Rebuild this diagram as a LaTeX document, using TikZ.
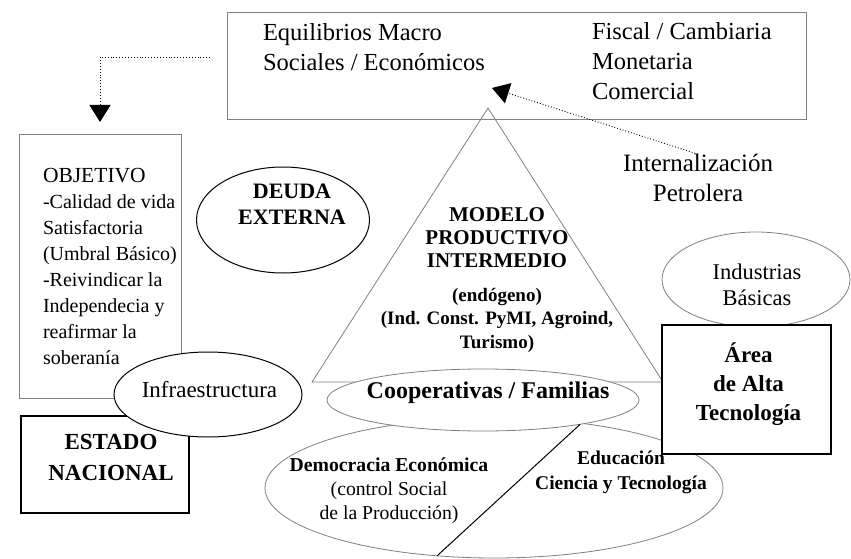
\documentclass[tikz,border=0pt]{standalone}
\usepackage{fontspec}
\setmainfont{Liberation Serif}
\usetikzlibrary{arrows.meta,positioning,shapes.geometric}

\tikzset{
	greyline/.style={draw=black!50, line width=0.8pt},
	blackline/.style={draw=black, line width=1pt},
	boxed/.style={rectangle, fill=white, inner sep=0pt, outer sep=0pt},
	oval/.style={ellipse, fill=white, inner sep=0pt, outer sep=0pt},
	txt/.style={inner sep=0pt, outer sep=0pt, align=center},
	dotarrow/.style={black, line width=0.9pt, dash pattern=on 0.9pt off 2pt,
		-{Triangle[width=21pt,length=17pt]}},
}
\newcommand{\fs}[2]{\fontsize{#1}{#2}\selectfont}

\begin{document}
\begin{tikzpicture}[x=1pt,y=-1pt]
	\useasboundingbox (0,0) rectangle (851,559);

	% Drawing box equil
	\node[boxed, greyline, minimum width=579pt, minimum height=107pt] (equil) at (516.5,65.5) {};%

	% Marking text macro / politicas
	\node[txt, align=left, anchor=west, font=\fs{24.5}{30}] (macro) at (263,47.5) {Equilibrios Macro\\Sociales / Económicos};%
	\node[txt, align=left, anchor=west, font=\fs{24.5}{30}] (politicas) at (592,61.5) {Fiscal / Cambiaria\\Monetaria\\Comercial};%

	% Drawing box objetivo
	\node[boxed, greyline, minimum width=162pt, minimum height=264pt] (objetivo) at (100,266) {};%
	\node[txt, align=left, anchor=west, font=\fs{20}{26}] (objtext) at (43,266) {{\fontsize{21.5}{26}\selectfont OBJETIVO}\\-Calidad de vida\\Satisfactoria\\(Umbral Básico)\\-Reivindicar la\\Independecia y\\reafirmar la\\soberanía};%

	% Drawing arrow equil objetivo
	\draw[dotarrow, shorten <=17pt, shorten >=12pt] ([yshift=8.5pt]equil.west) -| (objetivo.north);%

	% Drawing ellipse deuda
	\node[oval, blackline, minimum width=173pt, minimum height=106pt] (deuda) at (283,220) {};%
	\node[txt, font=\bfseries\fs{22}{26}] (deudatext) at (292,204) {DEUDA\\EXTERNA};%

	% Drawing triangle modelo
	\coordinate (apex) at (488,108);
	\coordinate (baseL) at (312,382);
	\coordinate (baseR) at (663,382);
	\draw[greyline] (apex) -- (baseL) -- (baseR) -- cycle;%
	\node[txt, font=\bfseries\fs{21}{23}] (modelo) at (497,238) {MODELO\\PRODUCTIVO\\INTERMEDIO};%
	\node[txt, font=\bfseries\fs{19}{23.5}] (endogeno) at (497,320) {(endógeno)\\(Ind. Const. PyMI, Agroind,\\Turismo)};%

	% Drawing ellipse industrias
	\node[oval, greyline, minimum width=188pt, minimum height=95pt] (industrias) at (756,279.5) {};%
	\node[txt, font=\fs{22.5}{26}] (indtext) at (757,285) {Industrias\\Básicas};%

	% Drawing ellipse economia
	\node[oval, greyline, minimum width=458pt, minimum height=140pt] (economia) at (494,488) {};%

	% Drawing ellipse coop
	\node[oval, greyline, minimum width=312pt, minimum height=62pt] (coop) at (483,400) {};%
	\node[txt, font=\bfseries\fs{24}{28}] (cooptext) at (488,393) {Cooperativas / Familias};%

	% Drawing segment coop economia
	\draw[blackline] (coop.-14) -- (economia.230);%

	% Marking democracia / educacion
	\node[txt, font=\fs{19.7}{24}] (democracia) at (389,491) {\textbf{Democracia Económica}\\(control Social\\de la Producción)};%
	\node[txt, font=\bfseries\fs{19.5}{25}] (educacion) at (621,472.5) {Educación\\Ciencia y Tecnología};%

	% Drawing box area
	\node[boxed, blackline, line width=1.3pt, minimum width=169pt, minimum height=129pt] (area) at (746.5,389.5) {};%
	\node[txt, font=\bfseries\fs{23}{29}] (areatext) at (748.5,384) {Área\\de Alta\\Tecnología};%

	% Drawing box estado
	\node[boxed, blackline, line width=1.3pt, minimum width=168pt, minimum height=97pt] (estado) at (105,464.5) {};%
	\node[txt, font=\bfseries\fs{23}{31}] (estadotext) at (111,457.5) {ESTADO\\NACIONAL};%

	% Drawing ellipse infra
	\node[oval, blackline, minimum width=188pt, minimum height=85pt] (infra) at (208,394.5) {};%
	\node[txt, font=\fs{23}{27}] (infratext) at (209.5,390) {Infraestructura};%

	% Drawing arrow petrolera equil
	\node[txt, font=\fs{25}{30}] (petrolera) at (698,178) {Internalización\\Petrolera};%
	\coordinate (equiltip) at (492,88);
	\draw[dotarrow] (petrolera.north) -- (equiltip);%
\end{tikzpicture}
\end{document}
